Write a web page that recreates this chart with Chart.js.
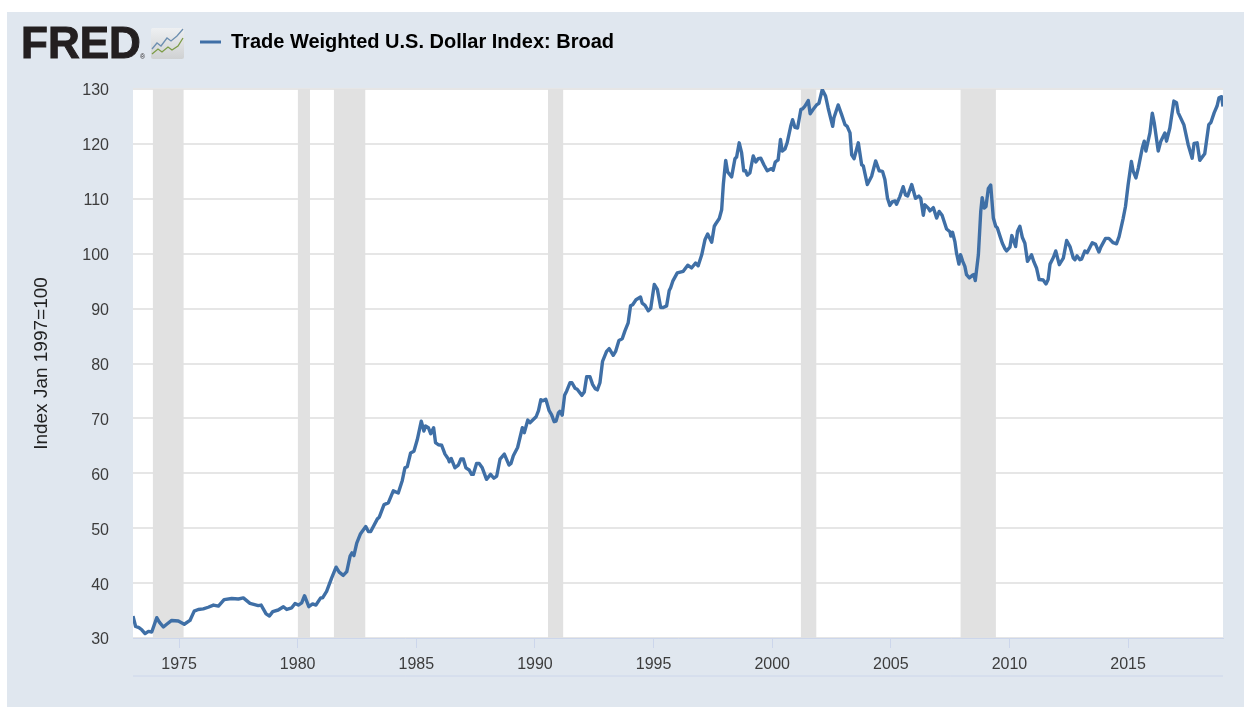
<!DOCTYPE html>
<html>
<head>
<meta charset="utf-8">
<title>Trade Weighted U.S. Dollar Index: Broad</title>
<script src="https://cdn.jsdelivr.net/npm/chart.js@4/dist/chart.umd.min.js"></script>
<style>
html,body{margin:0;padding:0;background:#fff;width:1244px;height:707px;overflow:hidden}
#panel{position:absolute;left:7px;top:12px;right:0;bottom:0;background:#e0e7ef}
#chart{position:absolute;left:0;top:0}
#fred{position:absolute;left:21px;top:20px;font:bold 44px/46px "Liberation Sans",Arial,sans-serif;color:#231f20;-webkit-text-stroke:1px #231f20;letter-spacing:0}
#reg{position:absolute;left:140px;top:53px;font:7px/8px "Liberation Sans",Arial,sans-serif;color:#231f20}
#icon{position:absolute;left:151px;top:28px}
</style>
</head>
<body>
<div id="panel"></div>
<canvas id="chart" width="1244" height="707"></canvas>
<div id="fred">FRED</div><div id="reg">®</div>
<svg id="icon" width="33" height="31" viewBox="0 0 33 31">
<defs><linearGradient id="g" x1="0" y1="0" x2="0" y2="1"><stop offset="0" stop-color="#eef0f2"/><stop offset="1" stop-color="#cfd1d2"/></linearGradient></defs>
<rect width="33" height="31" rx="2" fill="url(#g)"/>
<polyline points="1,21 6,15 10,18 16,10 20,13 26,8 32,1" fill="none" stroke="#6d8fb0" stroke-width="1.3"/>
<polyline points="1,26 7,21 11,24 17,19 21,22 27,18 32,10" fill="none" stroke="#7c9c46" stroke-width="1.3"/>
</svg>
<script>
const seriesName = "Trade Weighted U.S. Dollar Index: Broad";
const yAxisTitle = "Index Jan 1997=100";
const xTickYears = [1975,1980,1985,1990,1995,2000,2005,2010,2015];
const yTickValues = [30,40,50,60,70,80,90,100,110,120,130];
const recessionStart = [1973.89,1980.0,1981.52,1990.55,2001.2,2007.93];
const recessionEnd   = [1975.2,1980.52,1982.86,1991.2,2001.87,2009.43];

const dates = [
1973.06,1973.17,1973.31,1973.43,1973.57,1973.71,1973.85,1974.06,1974.17,1974.34,1974.48,1974.69,1974.97,
1975.22,1975.46,1975.64,1975.81,1976.02,1976.23,1976.45,1976.66,1976.90,1977.22,1977.50,1977.71,1977.99,
1978.34,1978.46,1978.67,1978.81,1978.95,1979.18,1979.40,1979.54,1979.75,1979.89,1980.03,1980.17,1980.29,
1980.47,1980.63,1980.77,1980.97,1981.05,1981.22,1981.43,1981.62,1981.75,1981.92,1982.07,1982.21,1982.29,
1982.37,1982.49,1982.65,1982.87,1982.98,1983.08,1983.36,1983.44,1983.64,1983.82,1984.03,1984.24,1984.41,
1984.52,1984.62,1984.76,1984.90,1985.04,1985.21,1985.32,1985.39,1985.51,1985.61,1985.73,1985.81,1985.93,
1986.07,1986.21,1986.35,1986.39,1986.47,1986.63,1986.77,1986.88,1986.98,1987.09,1987.23,1987.33,1987.40,
1987.54,1987.65,1987.78,1987.96,1988.13,1988.27,1988.39,1988.53,1988.71,1988.91,1988.99,1989.09,1989.27,
1989.47,1989.55,1989.70,1989.79,1990.05,1990.15,1990.25,1990.33,1990.46,1990.60,1990.70,1990.81,1990.89,
1990.99,1991.05,1991.15,1991.25,1991.34,1991.48,1991.56,1991.69,1991.78,1991.98,1992.08,1992.18,1992.32,
1992.43,1992.54,1992.63,1992.74,1992.85,1993.02,1993.13,1993.30,1993.40,1993.54,1993.68,1993.79,1993.93,
1994.03,1994.12,1994.26,1994.45,1994.52,1994.64,1994.78,1994.88,1995.03,1995.16,1995.30,1995.41,1995.55,
1995.66,1995.72,1995.81,1996.00,1996.25,1996.44,1996.60,1996.77,1996.88,1997.03,1997.17,1997.28,1997.45,
1997.56,1997.63,1997.77,1997.87,1997.94,1998.04,1998.12,1998.29,1998.43,1998.50,1998.61,1998.71,1998.80,
1998.88,1998.95,1999.06,1999.20,1999.31,1999.41,1999.52,1999.65,1999.79,1999.87,1999.97,2000.04,2000.13,
2000.25,2000.35,2000.42,2000.54,2000.63,2000.78,2000.86,2000.96,2001.07,2001.21,2001.28,2001.38,2001.52,
2001.60,2001.73,2001.87,2001.97,2002.11,2002.25,2002.36,2002.55,2002.60,2002.78,2002.93,2003.07,2003.16,
2003.28,2003.35,2003.45,2003.63,2003.77,2003.84,2004.01,2004.19,2004.36,2004.51,2004.65,2004.75,2004.86,
2004.96,2005.07,2005.18,2005.24,2005.38,2005.52,2005.62,2005.71,2005.88,2006.04,2006.18,2006.26,2006.37,
2006.44,2006.58,2006.65,2006.79,2006.93,2007.04,2007.16,2007.35,2007.49,2007.53,2007.60,2007.70,2007.77,
2007.87,2007.94,2008.03,2008.12,2008.19,2008.31,2008.45,2008.50,2008.56,2008.69,2008.79,2008.85,2008.94,
2009.01,2009.11,2009.21,2009.32,2009.42,2009.49,2009.60,2009.70,2009.81,2009.88,2010.02,2010.10,2010.26,
2010.34,2010.44,2010.54,2010.65,2010.76,2010.93,2011.03,2011.14,2011.25,2011.42,2011.54,2011.63,2011.71,
2011.85,2011.95,2012.10,2012.27,2012.41,2012.55,2012.69,2012.76,2012.85,2012.97,2013.04,2013.18,2013.28,
2013.49,2013.63,2013.77,2013.85,2014.05,2014.19,2014.37,2014.51,2014.62,2014.79,2014.89,2015.00,2015.14,
2015.21,2015.33,2015.43,2015.60,2015.68,2015.75,2015.92,2016.02,2016.10,2016.27,2016.38,2016.55,2016.62,
2016.76,2016.93,2017.04,2017.11,2017.35,2017.53,2017.70,2017.78,2017.91,2018.02,2018.23,2018.40,2018.49,
2018.63,2018.75,2018.83,2018.94,2019.0
];
const indexValues = [
34.0,32.1,31.9,31.5,30.8,31.2,31.1,33.7,32.9,32.0,32.5,33.2,33.1,
32.5,33.2,34.9,35.2,35.3,35.6,36.0,35.8,37.0,37.2,37.1,37.3,36.3,
35.9,36.0,34.4,34.0,34.8,35.1,35.7,35.2,35.5,36.3,36.0,36.4,37.7,
35.7,36.2,36.0,37.3,37.3,38.5,40.9,42.9,42.0,41.4,42.1,44.9,45.5,
45.0,47.3,49.0,50.3,49.4,49.4,51.7,52.0,54.3,54.6,56.8,56.4,58.7,
61.0,61.2,63.7,64.0,66.1,69.5,67.7,68.6,68.3,67.2,68.3,65.6,65.2,
65.1,63.5,62.6,62.1,62.7,61.0,61.5,62.6,62.6,61.0,60.6,59.8,59.8,
61.8,61.8,61.0,58.9,59.8,59.1,59.5,62.6,63.5,61.5,61.8,63.2,64.7,
68.3,67.4,69.7,69.2,70.3,71.4,73.4,73.2,73.5,71.4,70.7,69.4,69.5,
71.0,71.3,70.6,74.2,75.0,76.5,76.5,75.5,75.3,74.2,74.8,77.6,77.6,
76.2,75.4,75.2,76.5,80.4,82.2,82.7,81.5,82.2,84.2,84.5,85.9,87.4,
90.5,90.7,91.6,92.1,91.0,90.6,89.6,90.0,94.4,93.5,90.2,90.2,90.5,
93.3,93.8,95.0,96.5,96.8,97.9,97.4,98.3,97.8,99.8,102.6,103.6,102.1,
105.0,105.5,106.4,108.0,112.6,117.0,114.9,114.0,117.3,117.6,120.2,118.4,115.1,
115.1,114.3,114.7,117.8,116.7,117.3,117.4,116.2,115.1,115.3,115.5,115.2,116.7,
117.1,120.8,118.7,119.1,120.2,123.2,124.4,123.0,122.9,126.3,126.4,126.9,127.9,
125.5,126.3,127.1,127.4,129.9,128.7,126.5,123.2,124.7,127.1,125.3,123.5,123.2,
122.0,118.0,117.3,120.2,116.2,116.0,112.6,114.1,116.9,115.1,115.0,113.5,110.1,
108.8,109.5,109.6,109.0,110.4,112.2,110.7,110.5,112.6,110.1,110.5,110.1,107.0,
108.9,108.3,107.8,108.4,106.5,107.7,107.0,104.5,104.0,103.2,103.9,102.2,100.1,
98.1,99.8,98.6,97.7,96.2,95.6,96.1,96.2,95.1,99.8,107.7,110.2,108.3,
108.6,111.9,112.5,106.5,105.0,104.7,103.2,101.9,100.9,100.5,101.2,103.3,101.3,
104.1,105.0,103.0,101.9,98.6,99.8,98.5,97.4,95.3,95.2,94.5,95.3,98.1,
99.3,100.5,98.0,99.2,102.4,101.3,99.2,98.9,99.6,98.9,99.0,100.5,100.2,
102.0,101.7,100.3,101.2,102.8,102.8,102.0,101.8,103.1,106.4,108.6,112.5,116.8,
115.1,113.8,115.6,119.3,120.5,118.7,122.0,125.6,123.9,118.7,120.5,122.0,120.5,
122.9,127.8,127.5,125.7,123.5,119.9,117.4,120.1,120.2,117.0,118.2,123.5,123.9,
125.7,126.9,128.4,128.6,126.8
];

const LINE = "#3f6fa6", AXIS = "#ccd6eb", GRID = "#e6e6e6", BAND = "#e1e1e1", FONT = '"Liberation Sans", Arial, sans-serif';

const recessionSets = recessionStart.map((s, i) => ({
  label: "Recession", type: "line", order: 2, borderWidth: 0, pointRadius: 0,
  backgroundColor: BAND, fill: "start",
  data: [{x: s, y: 130}, {x: recessionEnd[i], y: 130}]
}));

const framePlugin = {
  id: "frame",
  afterLayout(chart) { chart.legend.left = 190; chart.legend.top = 22; },
  beforeDraw(chart) {
    const a = chart.chartArea, c = chart.ctx;
    c.save(); c.fillStyle = "#fff"; c.fillRect(a.left, a.top, a.right - a.left, a.bottom - a.top); c.restore();
  },
  afterDraw(chart) {
    const a = chart.chartArea, c = chart.ctx;
    c.save(); c.strokeStyle = AXIS; c.lineWidth = 1;
    c.beginPath(); c.moveTo(a.left, 676); c.lineTo(a.right, 676); c.stroke(); c.restore();
  }
};

new Chart(document.getElementById("chart"), {
  type: "line",
  data: { datasets: [{
    label: seriesName, order: 1, borderColor: LINE, backgroundColor: LINE, borderWidth: 3.4,
    pointRadius: 0, tension: 0, borderJoinStyle: "round", fill: false,
    data: dates.map((d, i) => ({x: d, y: indexValues[i]}))
  }].concat(recessionSets) },
  plugins: [framePlugin],
  options: {
    responsive: false, animation: false, devicePixelRatio: 1,
    layout: { padding: { top: 49, right: 21, bottom: 0, left: 0 } },
    plugins: {
      tooltip: { enabled: false },
      legend: { position: "top", align: "start",
        labels: { font: { family: FONT, size: 20, weight: "bold" }, color: "#000", boxWidth: 21, boxHeight: 3, padding: 10,
          generateLabels: () => [{ text: seriesName, fillStyle: LINE, strokeStyle: LINE, lineWidth: 0, datasetIndex: 0 }] } }
    },
    scales: {
      x: { type: "linear", min: 1973.06, max: 2019,
        afterBuildTicks: s => { s.ticks = xTickYears.map(v => ({value: v})); },
        afterFit: s => { s.height = 69; },
        grid: { display: true, drawOnChartArea: false, drawTicks: true, tickLength: 10, tickColor: AXIS, tickWidth: 1 },
        border: { display: true, color: AXIS, width: 1 },
        ticks: { autoSkip: false, maxRotation: 0, padding: 7, color: "#3c3c3c", font: { family: FONT, size: 16 }, callback: v => String(v) } },
      y: { type: "linear", min: 30, max: 130,
        afterBuildTicks: s => { s.ticks = yTickValues.map(v => ({value: v})); },
        afterFit: s => { s.width = 133; },
        grid: { color: GRID, lineWidth: 2, drawTicks: false, tickLength: 0 },
        border: { display: false },
        ticks: { padding: 24, labelOffset: 2, color: "#3c3c3c", font: { family: FONT, size: 16 } },
        title: { display: true, text: yAxisTitle, color: "#222", font: { family: FONT, size: 19 }, padding: { top: 30, bottom: 0 } } }
    }
  }
});
</script>
</body>
</html>
